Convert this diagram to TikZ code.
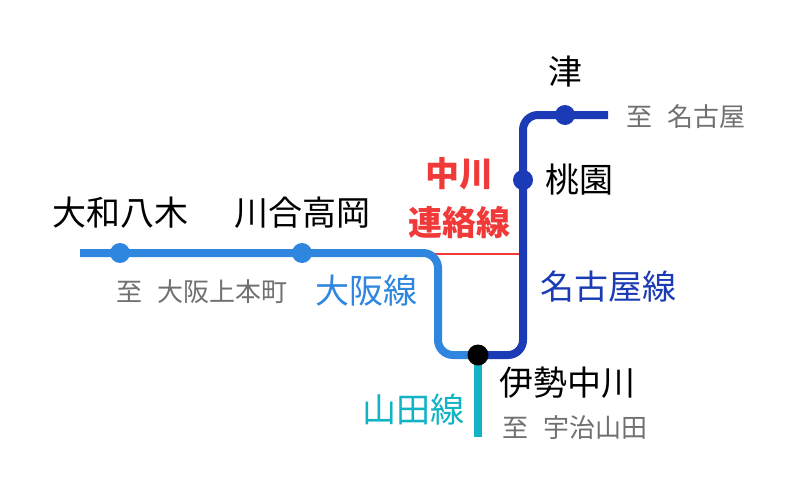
\documentclass[tikz,border=0pt]{standalone}
\usepackage{fontspec}
\setmainfont{Noto Sans CJK JP}
\usetikzlibrary{positioning}
\definecolor{osaka}{HTML}{2E86DE}
\definecolor{nagoya}{HTML}{1A3BB5}
\definecolor{yamada}{HTML}{12B3C4}
\definecolor{renraku}{HTML}{F03A3A}
\definecolor{grayt}{HTML}{707070}
\newcommand{\itaru}{至\hspace{0.6em}}
\begin{document}
\begin{tikzpicture}[x=1pt, y=-1pt,
  station/.style={circle, inner sep=0pt, minimum size=16pt},
  lbl/.style={font=\fontsize{34}{34}\selectfont},
  bold lbl/.style={font=\fontsize{34}{34}\selectfont\bfseries, text=renraku},
  dest/.style={font=\fontsize{26}{26}\selectfont, text=grayt},
  track/.style={line width=8pt, rounded corners=15pt}]
   \useasboundingbox (0,0) rectangle (800,495);
   \coordinate (w) at (80,253);
   \coordinate (e) at (608,115);
   \coordinate (s) at (478,437);
   \coordinate (rw) at (432,254);
   \coordinate (re) at (523,254);
   \node[station] (yagi) at (120,253) {};
   \node[station] (takaoka) at (302,253) {};
   \node[station] (momozono) at (523,180) {};
   \node[station] (tsu) at (565,115) {};
   \node[station] (nakagawa) at (478,355) {};

   \draw[renraku, line width=2pt] (rw) -- (re);
   \draw[yamada, line width=8pt] (nakagawa.center) -- (s);
   \draw[osaka, track] (w) -- (438,253) -- (438,355) -- (nakagawa.center);
   \draw[nagoya, track] (nakagawa.center) -- (523,355) -- (523,115) -- (e);

   \fill[osaka] (yagi.center) circle (10pt) (takaoka.center) circle (10pt);
   \fill[nagoya] (momozono.center) circle (10pt) (tsu.center) circle (10pt);
   \fill[black] (nakagawa.center) circle (10.5pt);

   \node[lbl] (lyagi) at (120,213) {大和八木};
   \node[lbl] (ltakaoka) at (302,213) {川合高岡};
   \node[dest] (losaka) at (202,292) {\itaru 大阪上本町};
   \node[lbl, text=osaka] (osakasen) at (366,291) {大阪線};
   \node[bold lbl] (lnaka) at (459,174) {中川};
   \node[bold lbl] (lren) at (459,223) {連絡線};
   \node[lbl] (lmomo) at (579,180) {桃園};
   \node[lbl] (ltsu) at (565,72) {津};
   \node[dest] (lnagoya) at (686,117) {\itaru 名古屋};
   \node[lbl, text=nagoya] (nagoyasen) at (608,287) {名古屋線};
   \node[lbl] (lise) at (567,383) {伊勢中川};
   \node[dest] (luji) at (575,428) {\itaru 宇治山田};
   \node[lbl, text=yamada] (yamadasen) at (413,410) {山田線};
\end{tikzpicture}
\end{document}
